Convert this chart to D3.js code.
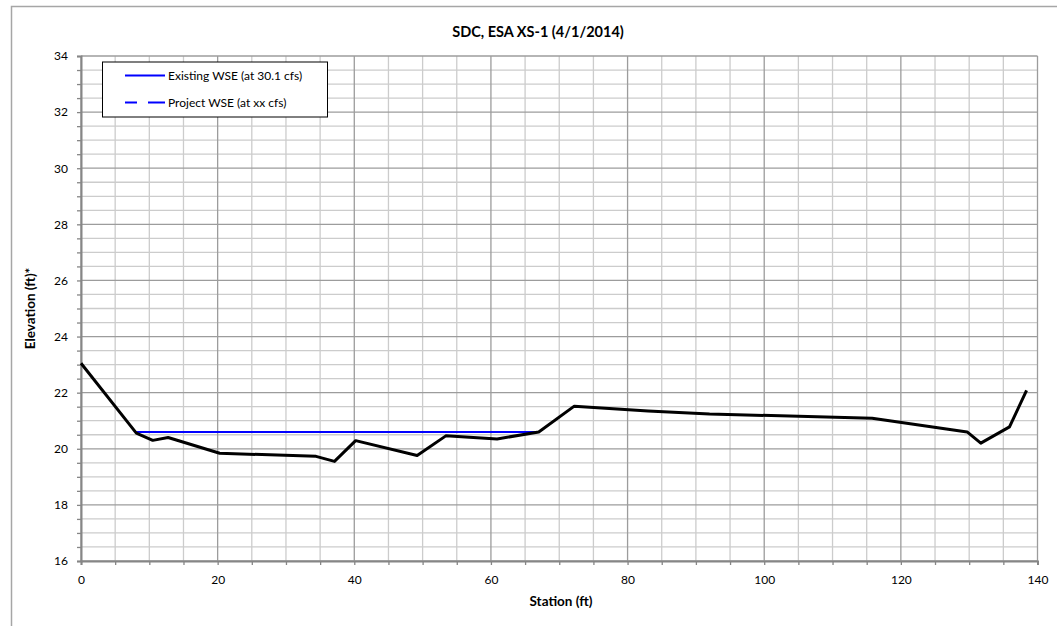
<!DOCTYPE html>
<html><head><meta charset="utf-8">
<script src="https://cdn.jsdelivr.net/npm/d3@7"></script>
<style>
html,body{margin:0;padding:0;background:#fff;}
svg{display:block;font-family:Lato,"Open Sans",sans-serif;}
</style></head>
<body><svg id="chart" width="1057" height="626"></svg>
<script>
// Data
const groundStation = [0, 8.1, 10.5, 12.75, 20.3, 34.4, 37.1, 40.2, 49.2, 53.4, 60.9, 67.0, 72.2, 83, 92, 115.8, 129.7, 131.7, 135.9, 138.4];
const groundElev    = [23.05, 20.56, 20.3, 20.4, 19.84, 19.73, 19.55, 20.29, 19.76, 20.46, 20.35, 20.6, 21.52, 21.35, 21.24, 21.09, 20.6, 20.2, 20.78, 22.08];
const wseStation = [8.1, 67.0];
const wseElev = [20.6, 20.6];
const xTicks = [0, 20, 40, 60, 80, 100, 120, 140];
const yTicks = [16, 18, 20, 22, 24, 26, 28, 30, 32, 34];
const legendLabels = ["Existing WSE (at 30.1 cfs)", "Project WSE (at xx cfs)"];
const title = "SDC, ESA XS-1 (4/1/2014)";

const svg = d3.select("#chart");
const L = 81, R = 1037.5, T = 56, B = 561;
const x = d3.scaleLinear().domain([0, 140]).range([L, R]);
const y = d3.scaleLinear().domain([16, 34]).range([B, T]);

// outer chart border
svg.append("path").attr("d", `M11.5,626 V6.5 H1057`).attr("fill","none").attr("stroke","#a6a6a6").attr("stroke-width",1.5);

// grid
const xMinor = d3.range(0, 140.01, 5);
const yMinor = d3.range(16, 34.01, 0.5);
const g = svg.append("g");
g.selectAll(".xm").data(xMinor.filter(v => v % 20 !== 0)).join("line")
  .attr("x1", d => x(d)).attr("x2", d => x(d)).attr("y1", T).attr("y2", B)
  .attr("stroke", "#cccccc").attr("stroke-width", 1.3);
g.selectAll(".ym").data(yMinor.filter(v => v % 2 !== 0)).join("line")
  .attr("y1", d => y(d)).attr("y2", d => y(d)).attr("x1", L).attr("x2", R)
  .attr("stroke", "#cccccc").attr("stroke-width", 1.3);
g.selectAll(".xM").data(xTicks).join("line")
  .attr("x1", d => x(d)).attr("x2", d => x(d)).attr("y1", T).attr("y2", B)
  .attr("stroke", "#9c9c9c").attr("stroke-width", 1.3);
g.selectAll(".yM").data(yTicks).join("line")
  .attr("y1", d => y(d)).attr("y2", d => y(d)).attr("x1", L).attr("x2", R)
  .attr("stroke", "#9c9c9c").attr("stroke-width", 1.3);

// axes
const xAxis = d3.axisBottom(x).tickValues(xMinor).tickSize(4).tickFormat(d => xTicks.includes(d) ? d : "");
const yAxis = d3.axisLeft(y).tickValues(yMinor).tickSize(4).tickFormat(d => yTicks.includes(d) ? d : "");
const gx = svg.append("g").attr("transform", `translate(0,${B})`).call(xAxis);
const gy = svg.append("g").attr("transform", `translate(${L},0)`).call(yAxis);
[gx, gy].forEach(a => {
  a.select(".domain").attr("stroke", "#868686").attr("stroke-width", 2);
  a.selectAll(".tick line").attr("stroke", "#868686").attr("stroke-width", 1.3);
  a.selectAll("text").attr("font-size", 12).attr("fill", "#000").attr("font-family", "Lato,'Open Sans',sans-serif");
});
gx.selectAll("text").attr("dy", "1.35em");
gy.selectAll("text").attr("dx", "-0.5em");

// lines
const line = d3.line().x(d => x(d[0])).y(d => y(d[1]));
svg.append("path").datum(wseStation.map((s, i) => [s, wseElev[i]]))
  .attr("d", line).attr("fill", "none").attr("stroke", "#0000ff").attr("stroke-width", 2);
svg.append("path").datum(groundStation.map((s, i) => [s, groundElev[i]]))
  .attr("d", line).attr("fill", "none").attr("stroke", "#000").attr("stroke-width", 3).attr("stroke-linejoin", "round");

// legend
const lg = svg.append("g");
lg.append("rect").attr("x", 102.5).attr("y", 62).attr("width", 225).attr("height", 55).attr("fill", "#fff").attr("stroke", "#000").attr("stroke-width", 1);
lg.append("line").attr("x1", 125).attr("x2", 165).attr("y1", 75.5).attr("y2", 75.5).attr("stroke", "#0000ff").attr("stroke-width", 2);
lg.append("line").attr("x1", 125).attr("x2", 165).attr("y1", 102.5).attr("y2", 102.5).attr("stroke", "#0000ff").attr("stroke-width", 2).attr("stroke-dasharray", "12,11,17");
lg.selectAll("text").data(legendLabels).join("text")
  .attr("x", 168).attr("y", (d, i) => i ? 102.5 : 75.5).attr("dy", "0.35em")
  .attr("font-size", 12).text(d => d);

// titles
svg.append("text").attr("x", 538).attr("y", 37).attr("text-anchor", "middle").attr("font-weight", "bold").attr("font-size", 14.5).text(title);
svg.append("text").attr("x", 561).attr("y", 606).attr("text-anchor", "middle").attr("font-weight", "bold").attr("font-size", 13.5).text("Station (ft)");
svg.append("text").attr("transform", `translate(35,${(T + B) / 2}) rotate(-90)`).attr("text-anchor", "middle").attr("font-weight", "bold").attr("font-size", 13.5).text("Elevation (ft)*");
</script></body></html>
